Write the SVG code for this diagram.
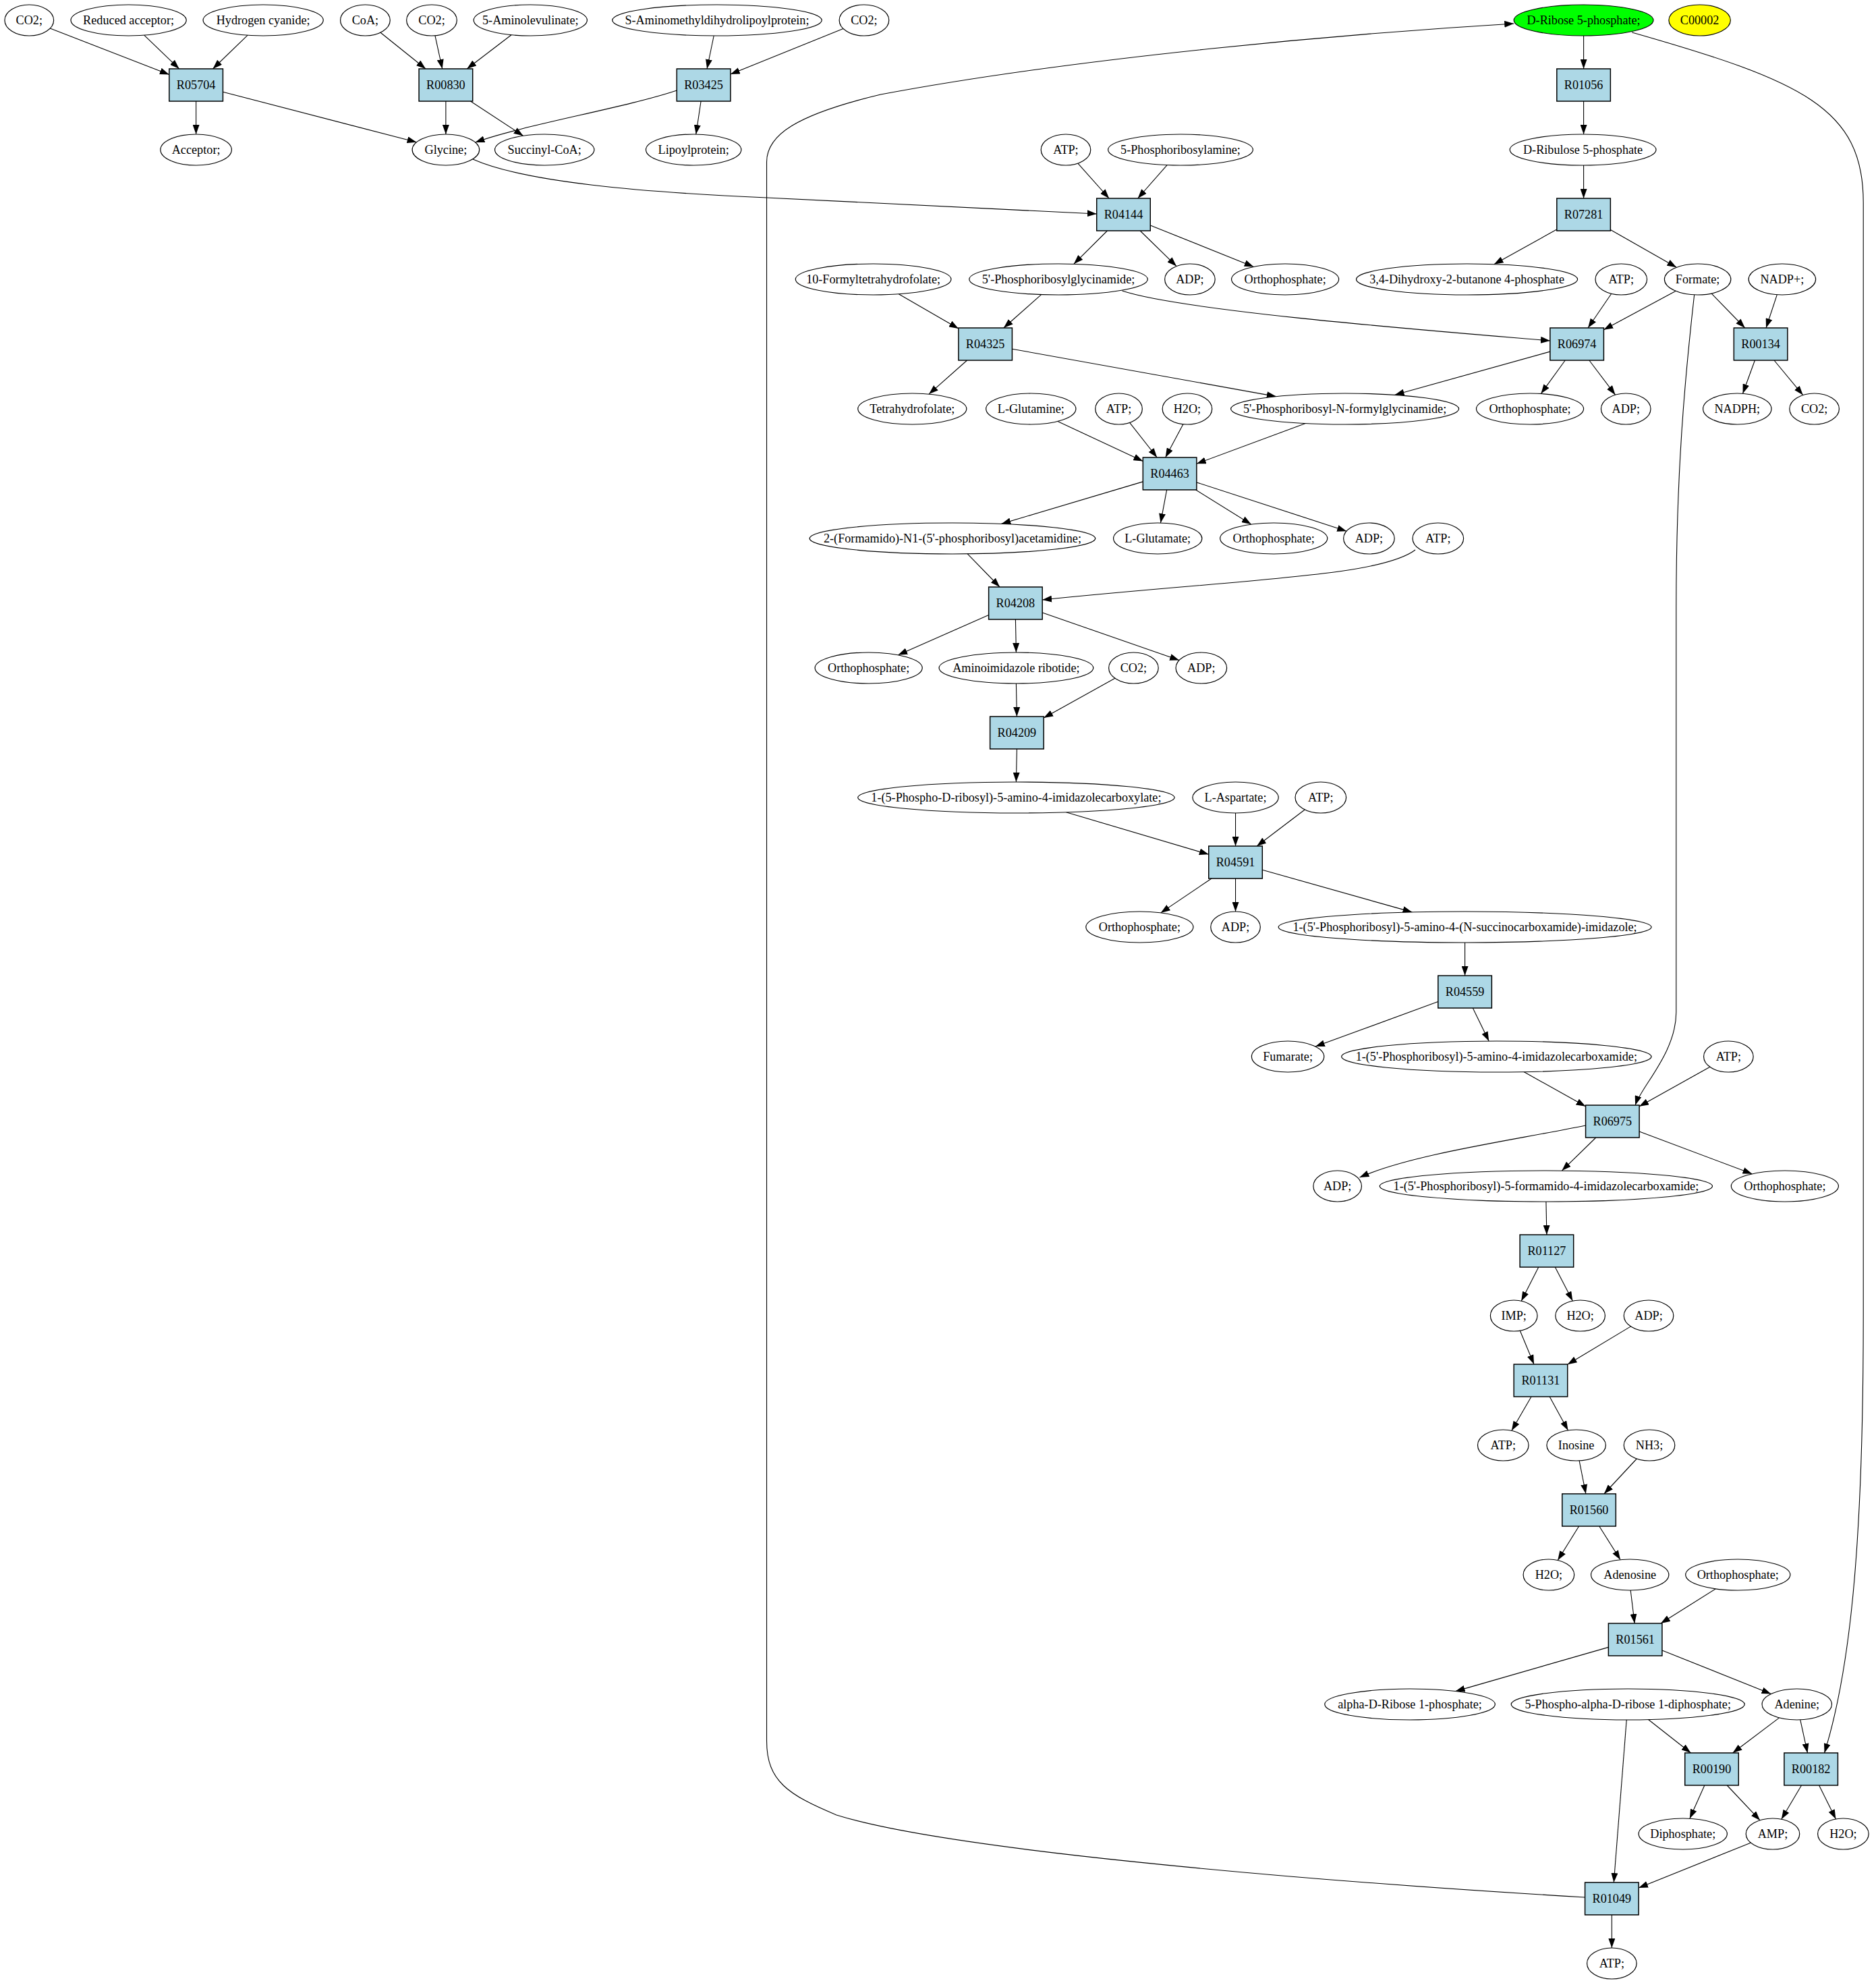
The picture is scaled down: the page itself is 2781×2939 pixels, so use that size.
<svg xmlns="http://www.w3.org/2000/svg" width="2781" height="2939" viewBox="0 0 2781 2939">
<defs>
<marker id="ah" markerUnits="userSpaceOnUse" markerWidth="14" markerHeight="10" refX="14" refY="5" orient="auto" viewBox="0 0 14 10"><path d="M0,0 L14,5 L0,10 z" fill="#000"/></marker>
</defs>
<style>
.e{fill:#fff;stroke:#000;stroke-width:1.2}
.g{fill:#00ff00;stroke:#000;stroke-width:1.2}
.y{fill:#ffff00;stroke:#000;stroke-width:1.2}
.r{fill:#add8e6;stroke:#000;stroke-width:1.5}
.t{font-family:"Liberation Serif","Times New Roman",serif;font-size:18.3px;text-anchor:middle;fill:#000}
.c path{stroke:#000;stroke-width:1.1;fill:none;marker-end:url(#ah)}
</style>
<rect width="2781" height="2939" fill="#fff"/>
<g id="connectors" class="c">
<g id="connectors_left" transform="scale(0.9953,1)">
<path d="M74.6,42 L252,110.5"/>
<path d="M214.7,52.1 L266.9,102"/>
<path d="M368.9,52.2 L317,102"/>
<path d="M292,150 L292,199"/>
<path d="M332,136.3 L620.4,210.8"/>
<path d="M566.7,48.2 L634,102"/>
<path d="M648,52.8 L658.8,102"/>
<path d="M761.6,51.7 L695.5,102"/>
<path d="M664,150 L664,199"/>
<path d="M700.8,150 L779.2,201.2"/>
<path d="M1063.2,53 L1053,102"/>
<path d="M1255.9,42.5 L1088,110"/>
<path d="M1008,134 C930,160 780,185 707.9,211"/>
<path d="M1044,150 L1036.6,199"/>
</g>
<g id="connectors_right" transform="matrix(0.9943,0,0,1,7,0)">
<path d="M698,236 C775,270 950,285 1136,293 C1350,303 1500,310 1628,317"/>
<path d="M1600,242.1 L1646.5,294"/>
<path d="M1733,244.6 L1689.3,294"/>
<path d="M1643.8,342 L1593.9,391.3"/>
<path d="M1692.8,342 L1747,394.6"/>
<path d="M1708,333.9 L1862.2,395.4"/>
<path d="M2354,53 L2354,102"/>
<path d="M2354,150 L2354,199"/>
<path d="M2354,245 L2354,294"/>
<path d="M2314,340.1 L2220.4,391.7"/>
<path d="M2394,340.6 L2492.5,396.2"/>
<path d="M1332.8,435.7 L1422,487"/>
<path d="M1545.4,436.6 L1489.3,486"/>
<path d="M1666,431 C1760,462 2150,492 2304,505"/>
<path d="M2395.4,435.3 L2360.5,486"/>
<path d="M2491.5,431.3 L2384,488.7"/>
<path d="M2544.5,434.9 L2594.5,486"/>
<path d="M2642.4,436.7 L2626,486"/>
<path d="M2519,437 C2505,560 2492,700 2492,900 L2492,1500 C2492,1560 2440,1610 2431,1638"/>
<path d="M1434.8,534 L1377.9,584.1"/>
<path d="M1502,517.2 L1895.5,587.6"/>
<path d="M2304,521.1 L2072.5,585.3"/>
<path d="M2326.5,534 L2290.4,583.5"/>
<path d="M2362.3,534 L2401.2,585.2"/>
<path d="M2609.3,534 L2591.3,583.3"/>
<path d="M2638,534 L2681,585.6"/>
<path d="M1569.9,624.5 L1697,683.5"/>
<path d="M1677.2,626.4 L1718,678"/>
<path d="M1756.9,628.7 L1730.5,678"/>
<path d="M1939.3,627.6 L1777,687.3"/>
<path d="M1697,713.9 L1485.9,776.4"/>
<path d="M1732.5,726 L1723.3,775"/>
<path d="M1775.8,726 L1858.3,777.1"/>
<path d="M1777,714.9 L2000.5,787.2"/>
<path d="M1435.4,820.9 L1483.5,870"/>
<path d="M2103,815 C2050,855 1850,858 1547,889"/>
<path d="M1467,911.5 L1331.9,970.8"/>
<path d="M1507,918 L1508,967"/>
<path d="M1547,907.9 L1751,978.6"/>
<path d="M1508,1013 L1509,1062"/>
<path d="M1655.3,1005.3 L1549,1063.9"/>
<path d="M1509,1110 L1508,1159"/>
<path d="M1582.4,1203.8 L1795,1266.3"/>
<path d="M1835,1205 L1835,1254"/>
<path d="M1938.3,1200 L1866.8,1254"/>
<path d="M1799.3,1302 L1723.5,1352.9"/>
<path d="M1835,1302 L1835,1351"/>
<path d="M1875,1289.2 L2098.4,1351.9"/>
<path d="M2177,1397 L2177,1446"/>
<path d="M2137,1484.5 L1954.1,1551.1"/>
<path d="M2188.8,1494 L2212.8,1543"/>
<path d="M2264.8,1588.6 L2357,1639.8"/>
<path d="M2542.4,1581.3 L2437,1639.8"/>
<path d="M2357,1668 C2250,1690 2100,1710 2020,1745"/>
<path d="M2372.3,1686 L2321.6,1735.1"/>
<path d="M2437,1677 L2605.2,1739.8"/>
<path d="M2298,1781 L2299,1830"/>
<path d="M2286.8,1878 L2261.1,1928.2"/>
<path d="M2311.5,1878 L2337.6,1928.1"/>
<path d="M2259.2,1972.2 L2280,2022"/>
<path d="M2424.3,1965.9 L2330,2022.2"/>
<path d="M2276,2070 L2246.7,2120.3"/>
<path d="M2303.3,2070 L2330.8,2119.9"/>
<path d="M2347.5,2164.9 L2357.3,2214"/>
<path d="M2433.2,2162 L2384.5,2214"/>
<path d="M2347,2262 L2315.4,2312.5"/>
<path d="M2377.3,2262 L2408.8,2311.7"/>
<path d="M2424,2357 L2430,2406"/>
<path d="M2550.8,2354.8 L2469,2406"/>
<path d="M2391,2441.4 L2163,2506.6"/>
<path d="M2471,2445.9 L2633.4,2510.6"/>
<path d="M2449.5,2547.7 L2513.8,2598"/>
<path d="M2645.7,2545.9 L2576.3,2598"/>
<path d="M2677,2548.9 L2687.8,2598"/>
<path d="M2426,48 C2680,120 2771,160 2771,300 L2771,1950 C2771,2300 2750,2480 2713,2598"/>
<path d="M2534.3,2646 L2512.2,2695.3"/>
<path d="M2567.8,2646 L2617,2697.9"/>
<path d="M2678.8,2646 L2648.9,2696.3"/>
<path d="M2705,2646 L2730,2696"/>
<path d="M2418,2549 L2399,2790"/>
<path d="M2603.7,2730.9 L2436,2798"/>
<path d="M2396,2838 L2396,2887"/>
<path d="M2356,2812 C1900,2785 1400,2740 1240,2690 C1168,2660 1136,2640 1136,2580 L1136,240 C1136,200 1180,170 1306,140 C1600,85 2000,50 2250,35"/>
</g>
</g>
<g id="nodes_left" transform="scale(0.9953,1)">
<g id="n_co2_a"><ellipse class="e" cx="43.5" cy="30" rx="36.5" ry="23"/><text class="t" x="43.5" y="36">CO2;</text></g>
<g id="n_reduced_acceptor"><ellipse class="e" cx="191.5" cy="30" rx="86" ry="23"/><text class="t" x="191.5" y="36">Reduced acceptor;</text></g>
<g id="n_hydrogen_cyanide"><ellipse class="e" cx="392" cy="30" rx="89.5" ry="23"/><text class="t" x="392" y="36">Hydrogen cyanide;</text></g>
<g id="n_coa"><ellipse class="e" cx="544" cy="30" rx="37" ry="23"/><text class="t" x="544" y="36">CoA;</text></g>
<g id="n_co2_b"><ellipse class="e" cx="643" cy="30" rx="37.5" ry="23"/><text class="t" x="643" y="36">CO2;</text></g>
<g id="n_aminolevulinate"><ellipse class="e" cx="790" cy="30" rx="84.5" ry="23"/><text class="t" x="790" y="36">5-Aminolevulinate;</text></g>
<g id="n_samdlp"><ellipse class="e" cx="1068" cy="30" rx="156" ry="23"/><text class="t" x="1068" y="36">S-Aminomethyldihydrolipoylprotein;</text></g>
<g id="n_co2_c"><ellipse class="e" cx="1287" cy="30" rx="37" ry="23"/><text class="t" x="1287" y="36">CO2;</text></g>
<g id="R05704"><rect class="r" x="252" y="102" width="80" height="48"/><text class="t" x="292" y="132">R05704</text></g>
<g id="R00830"><rect class="r" x="624" y="102" width="80" height="48"/><text class="t" x="664" y="132">R00830</text></g>
<g id="R03425"><rect class="r" x="1008" y="102" width="80" height="48"/><text class="t" x="1048" y="132">R03425</text></g>
<g id="n_acceptor"><ellipse class="e" cx="292" cy="222" rx="53" ry="23"/><text class="t" x="292" y="228">Acceptor;</text></g>
<g id="n_glycine"><ellipse class="e" cx="664" cy="222" rx="50" ry="23"/><text class="t" x="664" y="228">Glycine;</text></g>
<g id="n_succinylcoa"><ellipse class="e" cx="811" cy="222" rx="74" ry="23"/><text class="t" x="811" y="228">Succinyl-CoA;</text></g>
<g id="n_lipoylprotein"><ellipse class="e" cx="1033" cy="222" rx="71" ry="23"/><text class="t" x="1033" y="228">Lipoylprotein;</text></g>
</g>
<g id="nodes_right" transform="matrix(0.9943,0,0,1,7,0)">
<g id="n_ribose5p"><ellipse class="g" cx="2354" cy="30" rx="104" ry="23"/><text class="t" x="2354" y="36">D-Ribose 5-phosphate;</text></g>
<g id="n_c00002"><ellipse class="y" cx="2527" cy="30" rx="46" ry="23"/><text class="t" x="2527" y="36">C00002</text></g>
<g id="R01056"><rect class="r" x="2314" y="102" width="80" height="48"/><text class="t" x="2354" y="132">R01056</text></g>
<g id="n_atp_1"><ellipse class="e" cx="1582" cy="222" rx="37" ry="23"/><text class="t" x="1582" y="228">ATP;</text></g>
<g id="n_pra"><ellipse class="e" cx="1753" cy="222" rx="108" ry="23"/><text class="t" x="1753" y="228">5-Phosphoribosylamine;</text></g>
<g id="n_ribulose5p"><ellipse class="e" cx="2353" cy="222" rx="109" ry="23"/><text class="t" x="2353" y="228">D-Ribulose 5-phosphate</text></g>
<g id="R04144"><rect class="r" x="1628" y="294" width="80" height="48"/><text class="t" x="1668" y="324">R04144</text></g>
<g id="R07281"><rect class="r" x="2314" y="294" width="80" height="48"/><text class="t" x="2354" y="324">R07281</text></g>
<g id="n_fthf"><ellipse class="e" cx="1295" cy="414" rx="116" ry="23"/><text class="t" x="1295" y="420">10-Formyltetrahydrofolate;</text></g>
<g id="n_gar"><ellipse class="e" cx="1571" cy="414" rx="133" ry="23"/><text class="t" x="1571" y="420">5'-Phosphoribosylglycinamide;</text></g>
<g id="n_adp_1"><ellipse class="e" cx="1767" cy="414" rx="37.5" ry="23"/><text class="t" x="1767" y="420">ADP;</text></g>
<g id="n_pi_1"><ellipse class="e" cx="1909" cy="414" rx="80" ry="23"/><text class="t" x="1909" y="420">Orthophosphate;</text></g>
<g id="n_dhbp"><ellipse class="e" cx="2180" cy="414" rx="165" ry="23"/><text class="t" x="2180" y="420">3,4-Dihydroxy-2-butanone 4-phosphate</text></g>
<g id="n_atp_2"><ellipse class="e" cx="2410" cy="414" rx="38.5" ry="23"/><text class="t" x="2410" y="420">ATP;</text></g>
<g id="n_formate"><ellipse class="e" cx="2524" cy="414" rx="49.5" ry="23"/><text class="t" x="2524" y="420">Formate;</text></g>
<g id="n_nadp"><ellipse class="e" cx="2650" cy="414" rx="50" ry="23"/><text class="t" x="2650" y="420">NADP+;</text></g>
<g id="R04325"><rect class="r" x="1422" y="486" width="80" height="48"/><text class="t" x="1462" y="516">R04325</text></g>
<g id="R06974"><rect class="r" x="2304" y="486" width="80" height="48"/><text class="t" x="2344" y="516">R06974</text></g>
<g id="R00134"><rect class="r" x="2578" y="486" width="80" height="48"/><text class="t" x="2618" y="516">R00134</text></g>
<g id="n_thf"><ellipse class="e" cx="1353" cy="606" rx="81" ry="23"/><text class="t" x="1353" y="612">Tetrahydrofolate;</text></g>
<g id="n_gln"><ellipse class="e" cx="1530" cy="606" rx="67" ry="23"/><text class="t" x="1530" y="612">L-Glutamine;</text></g>
<g id="n_atp_3"><ellipse class="e" cx="1661" cy="606" rx="35" ry="23"/><text class="t" x="1661" y="612">ATP;</text></g>
<g id="n_h2o_1"><ellipse class="e" cx="1763" cy="606" rx="37" ry="23"/><text class="t" x="1763" y="612">H2O;</text></g>
<g id="n_fgar"><ellipse class="e" cx="1998" cy="606" rx="170" ry="23"/><text class="t" x="1998" y="612">5'-Phosphoribosyl-N-formylglycinamide;</text></g>
<g id="n_pi_2"><ellipse class="e" cx="2274" cy="606" rx="80" ry="23"/><text class="t" x="2274" y="612">Orthophosphate;</text></g>
<g id="n_adp_2"><ellipse class="e" cx="2417" cy="606" rx="37" ry="23"/><text class="t" x="2417" y="612">ADP;</text></g>
<g id="n_nadph"><ellipse class="e" cx="2583" cy="606" rx="51" ry="23"/><text class="t" x="2583" y="612">NADPH;</text></g>
<g id="n_co2_d"><ellipse class="e" cx="2698" cy="606" rx="37" ry="23"/><text class="t" x="2698" y="612">CO2;</text></g>
<g id="R04463"><rect class="r" x="1697" y="678" width="80" height="48"/><text class="t" x="1737" y="708">R04463</text></g>
<g id="n_fgam"><ellipse class="e" cx="1413" cy="798" rx="213" ry="23"/><text class="t" x="1413" y="804">2-(Formamido)-N1-(5'-phosphoribosyl)acetamidine;</text></g>
<g id="n_glu"><ellipse class="e" cx="1719" cy="798" rx="66" ry="23"/><text class="t" x="1719" y="804">L-Glutamate;</text></g>
<g id="n_pi_3"><ellipse class="e" cx="1892" cy="798" rx="80" ry="23"/><text class="t" x="1892" y="804">Orthophosphate;</text></g>
<g id="n_adp_3"><ellipse class="e" cx="2034" cy="798" rx="38" ry="23"/><text class="t" x="2034" y="804">ADP;</text></g>
<g id="n_atp_4"><ellipse class="e" cx="2137" cy="798" rx="38" ry="23"/><text class="t" x="2137" y="804">ATP;</text></g>
<g id="R04208"><rect class="r" x="1467" y="870" width="80" height="48"/><text class="t" x="1507" y="900">R04208</text></g>
<g id="n_pi_4"><ellipse class="e" cx="1288" cy="990" rx="80" ry="23"/><text class="t" x="1288" y="996">Orthophosphate;</text></g>
<g id="n_air"><ellipse class="e" cx="1508" cy="990" rx="115" ry="23"/><text class="t" x="1508" y="996">Aminoimidazole ribotide;</text></g>
<g id="n_co2_e"><ellipse class="e" cx="1683" cy="990" rx="37" ry="23"/><text class="t" x="1683" y="996">CO2;</text></g>
<g id="n_adp_4"><ellipse class="e" cx="1784" cy="990" rx="38" ry="23"/><text class="t" x="1784" y="996">ADP;</text></g>
<g id="R04209"><rect class="r" x="1469" y="1062" width="80" height="48"/><text class="t" x="1509" y="1092">R04209</text></g>
<g id="n_cair"><ellipse class="e" cx="1508" cy="1182" rx="236" ry="23"/><text class="t" x="1508" y="1188">1-(5-Phospho-D-ribosyl)-5-amino-4-imidazolecarboxylate;</text></g>
<g id="n_asp"><ellipse class="e" cx="1835" cy="1182" rx="64" ry="23"/><text class="t" x="1835" y="1188">L-Aspartate;</text></g>
<g id="n_atp_5"><ellipse class="e" cx="1962" cy="1182" rx="38" ry="23"/><text class="t" x="1962" y="1188">ATP;</text></g>
<g id="R04591"><rect class="r" x="1795" y="1254" width="80" height="48"/><text class="t" x="1835" y="1284">R04591</text></g>
<g id="n_pi_5"><ellipse class="e" cx="1692" cy="1374" rx="80" ry="23"/><text class="t" x="1692" y="1380">Orthophosphate;</text></g>
<g id="n_adp_5"><ellipse class="e" cx="1835" cy="1374" rx="37" ry="23"/><text class="t" x="1835" y="1380">ADP;</text></g>
<g id="n_saicar"><ellipse class="e" cx="2177" cy="1374" rx="278" ry="23"/><text class="t" x="2177" y="1380">1-(5'-Phosphoribosyl)-5-amino-4-(N-succinocarboxamide)-imidazole;</text></g>
<g id="R04559"><rect class="r" x="2137" y="1446" width="80" height="48"/><text class="t" x="2177" y="1476">R04559</text></g>
<g id="n_fumarate"><ellipse class="e" cx="1913" cy="1566" rx="54" ry="23"/><text class="t" x="1913" y="1572">Fumarate;</text></g>
<g id="n_aicar"><ellipse class="e" cx="2224" cy="1566" rx="231" ry="23"/><text class="t" x="2224" y="1572">1-(5'-Phosphoribosyl)-5-amino-4-imidazolecarboxamide;</text></g>
<g id="n_atp_6"><ellipse class="e" cx="2570" cy="1566" rx="37" ry="23"/><text class="t" x="2570" y="1572">ATP;</text></g>
<g id="R06975"><rect class="r" x="2357" y="1638" width="80" height="48"/><text class="t" x="2397" y="1668">R06975</text></g>
<g id="n_adp_6"><ellipse class="e" cx="1987" cy="1758" rx="36" ry="23"/><text class="t" x="1987" y="1764">ADP;</text></g>
<g id="n_faicar"><ellipse class="e" cx="2298" cy="1758" rx="248" ry="23"/><text class="t" x="2298" y="1764">1-(5'-Phosphoribosyl)-5-formamido-4-imidazolecarboxamide;</text></g>
<g id="n_pi_6"><ellipse class="e" cx="2654" cy="1758" rx="80" ry="23"/><text class="t" x="2654" y="1764">Orthophosphate;</text></g>
<g id="R01127"><rect class="r" x="2259" y="1830" width="80" height="48"/><text class="t" x="2299" y="1860">R01127</text></g>
<g id="n_imp"><ellipse class="e" cx="2250" cy="1950" rx="35" ry="23"/><text class="t" x="2250" y="1956">IMP;</text></g>
<g id="n_h2o_2"><ellipse class="e" cx="2349" cy="1950" rx="37" ry="23"/><text class="t" x="2349" y="1956">H2O;</text></g>
<g id="n_adp_7"><ellipse class="e" cx="2451" cy="1950" rx="37" ry="23"/><text class="t" x="2451" y="1956">ADP;</text></g>
<g id="R01131"><rect class="r" x="2250" y="2022" width="80" height="48"/><text class="t" x="2290" y="2052">R01131</text></g>
<g id="n_atp_7"><ellipse class="e" cx="2234" cy="2142" rx="38" ry="23"/><text class="t" x="2234" y="2148">ATP;</text></g>
<g id="n_inosine"><ellipse class="e" cx="2343" cy="2142" rx="44" ry="23"/><text class="t" x="2343" y="2148">Inosine</text></g>
<g id="n_nh3"><ellipse class="e" cx="2452" cy="2142" rx="38" ry="23"/><text class="t" x="2452" y="2148">NH3;</text></g>
<g id="R01560"><rect class="r" x="2322" y="2214" width="80" height="48"/><text class="t" x="2362" y="2244">R01560</text></g>
<g id="n_h2o_3"><ellipse class="e" cx="2302" cy="2334" rx="38" ry="23"/><text class="t" x="2302" y="2340">H2O;</text></g>
<g id="n_adenosine"><ellipse class="e" cx="2423" cy="2334" rx="58" ry="23"/><text class="t" x="2423" y="2340">Adenosine</text></g>
<g id="n_pi_7"><ellipse class="e" cx="2584" cy="2334" rx="78" ry="23"/><text class="t" x="2584" y="2340">Orthophosphate;</text></g>
<g id="R01561"><rect class="r" x="2391" y="2406" width="80" height="48"/><text class="t" x="2431" y="2436">R01561</text></g>
<g id="n_r1p"><ellipse class="e" cx="2095" cy="2526" rx="127" ry="23"/><text class="t" x="2095" y="2532">alpha-D-Ribose 1-phosphate;</text></g>
<g id="n_prpp"><ellipse class="e" cx="2420" cy="2526" rx="174" ry="23"/><text class="t" x="2420" y="2532">5-Phospho-alpha-D-ribose 1-diphosphate;</text></g>
<g id="n_adenine"><ellipse class="e" cx="2672" cy="2526" rx="52" ry="23"/><text class="t" x="2672" y="2532">Adenine;</text></g>
<g id="R00190"><rect class="r" x="2505" y="2598" width="80" height="48"/><text class="t" x="2545" y="2628">R00190</text></g>
<g id="R00182"><rect class="r" x="2653" y="2598" width="80" height="48"/><text class="t" x="2693" y="2628">R00182</text></g>
<g id="n_ppi"><ellipse class="e" cx="2502" cy="2718" rx="66" ry="23"/><text class="t" x="2502" y="2724">Diphosphate;</text></g>
<g id="n_amp"><ellipse class="e" cx="2636" cy="2718" rx="40" ry="23"/><text class="t" x="2636" y="2724">AMP;</text></g>
<g id="n_h2o_4"><ellipse class="e" cx="2741" cy="2718" rx="38" ry="23"/><text class="t" x="2741" y="2724">H2O;</text></g>
<g id="R01049"><rect class="r" x="2356" y="2790" width="80" height="48"/><text class="t" x="2396" y="2820">R01049</text></g>
<g id="n_atp_8"><ellipse class="e" cx="2396" cy="2910" rx="37" ry="23"/><text class="t" x="2396" y="2916">ATP;</text></g>
</g>
</svg>
